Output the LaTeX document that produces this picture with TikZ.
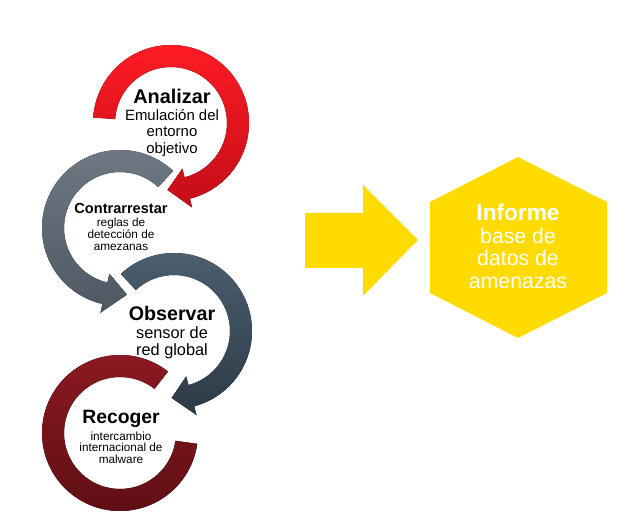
\documentclass[tikz,border=0pt]{standalone}
\usepackage{fontspec}
\setmainfont{Liberation Sans}
\usetikzlibrary{calc,positioning}
\definecolor{analizartop}{RGB}{255,27,36}
\definecolor{analizarbot}{RGB}{196,14,24}
\definecolor{contratop}{RGB}{112,122,132}
\definecolor{contrabot}{RGB}{78,88,98}
\definecolor{observartop}{RGB}{76,96,112}
\definecolor{observarbot}{RGB}{44,58,70}
\definecolor{recogertop}{RGB}{142,26,34}
\definecolor{recogerbot}{RGB}{92,14,20}
\definecolor{informe}{RGB}{255,219,0}
\tikzstyle{ringtext}=[align=center,inner sep=0pt,text=#1]
\tikzstyle{shade}=[top color=#1top,bottom color=#1bot]
% ring arrow: centre, start angle, end angle, tip angle, colour
\newcommand{\ringarrow}[5]{\fill[shade=#5] ($(#1)+(#2:78)$) arc[start angle=#2,end angle=#3,radius=78] -- ($(#1)+(#3:87)$) -- ($(#1)+(#4:67)$) -- ($(#1)+(#3:47)$) -- ($(#1)+(#3:56)$) arc[start angle=#3,end angle=#2,radius=56] -- cycle;}

\begin{document}
\begin{tikzpicture}[x=0.02cm,y=0.02cm]
    \useasboundingbox (0,0) rectangle (625,530);

    \coordinate (analizar c) at (171,407);
    \coordinate (contra c) at (120,302);
    \coordinate (observar c) at (174,199);
    \coordinate (recoger c) at (120,97);

    % rings, back to front
    \fill[shade=recoger] ($(recoger c)+(52:78)$) arc[start angle=52,end angle=352,radius=78] -- ($(recoger c)+(352:56)$) arc[start angle=352,end angle=52,radius=56] -- cycle;
    \ringarrow{observar c}{133}{-75}{-92}{observar}
    \ringarrow{contra c}{47}{257}{276}{contra}
    \ringarrow{analizar c}{176}{-76}{-93}{analizar}

    \node[ringtext=black,font=\fontsize{8.5}{9.4}\selectfont] (analizar) at (172,407.4) {{\fontsize{11.3}{13}\selectfont\bfseries Analizar}\\[0.5pt]Emulación del\\entorno\\objetivo};
    \node[ringtext=black,font=\fontsize{6.7}{6.8}\selectfont] (contra) at (121,303.2) {{\fontsize{8.3}{9}\selectfont\bfseries Contrarrestar}\\[0.6pt]reglas de\\detección de\\amezanas};
    \node[ringtext=black,font=\fontsize{9.3}{10.2}\selectfont] (observar) at (172,197.4) {{\fontsize{11.2}{13}\selectfont\bfseries Observar}\\sensor de\\red global};
    \node[ringtext=black,font=\fontsize{6.7}{6.6}\selectfont] (recoger) at (121,93.3) {{\fontsize{11}{13}\selectfont\bfseries Recoger}\\[1.3pt]intercambio\\internacional de\\malware};

    % big arrow and hexagon
    \fill[informe] (305,317) -- (363,317) -- (363,345) -- (418,290) -- (363,234) -- (363,262) -- (305,262) -- cycle;
    \fill[informe] (518,373) -- (607,328) -- (607,237) -- (518,192) -- (430,237) -- (430,328) -- cycle;
    \node[ringtext=white,font=\fontsize{12.1}{12.8}\selectfont] (informe) at (518,283.4) {{\fontsize{12.9}{15}\selectfont\bfseries Informe}\\base de\\datos de\\amenazas};
\end{tikzpicture}
\end{document}
